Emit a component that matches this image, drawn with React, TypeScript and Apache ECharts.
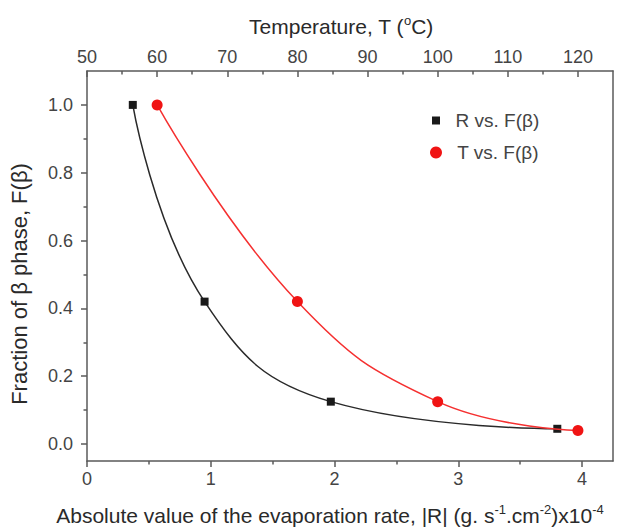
import React, { useEffect, useRef } from 'react';
import * as echarts from 'echarts';

// ---- data ----
const rateValues = [0.37, 0.95, 1.97, 3.8]; // |R| x10^-4
const fractionR = [1.0, 0.42, 0.125, 0.045];
const tempValues = [60, 80, 100, 120]; // °C
const fractionT = [1.0, 0.42, 0.125, 0.04];

const yMajorTicks = [0, 0.2, 0.4, 0.6, 0.8, 1.0];
const yMinorTicks = [0.1, 0.3, 0.5, 0.7, 0.9];
const rateMajorTicks = [0, 1, 2, 3, 4];
const rateMinorTicks = [0.5, 1.5, 2.5, 3.5];
const tempMajorTicks = [50, 60, 70, 80, 90, 100, 110, 120];
const tempMinorTicks = [55, 65, 75, 85, 95, 105, 115];

const seriesNames = ['R vs. F(β)', 'T vs. F(β)'];

const FONT = "'Liberation Sans', Arial, sans-serif";
const AXIS_COLOR = '#5a5a5a';
const LABEL_COLOR = '#444444';
const TITLE_COLOR = '#2a2a2a';

export default function App() {
  const ref = useRef<HTMLDivElement>(null);

  useEffect(() => {
    if (!ref.current) return;
    const chart = echarts.init(ref.current, null, { renderer: 'svg' });

    const grid = { left: 87, right: 7, top: 71, bottom: 69, containLabel: false, outerBoundsMode: 'none' };
    const axisLine = { show: true, onZero: false, lineStyle: { color: AXIS_COLOR, width: 1.5 } };
    const noLine = { show: false, onZero: false };
    const tickLine = { color: AXIS_COLOR, width: 1.5 };
    const labelStyle = { fontFamily: FONT, fontSize: 18, color: LABEL_COLOR };
    const makeName = (size: number) => ({
      fontFamily: FONT,
      fontSize: size,
      color: TITLE_COLOR,
      lineHeight: size + 4,
      rich: {
        sup: { fontFamily: FONT, fontSize: Math.round(size * 0.6), color: TITLE_COLOR, verticalAlign: 'top', lineHeight: size + 4 },
      },
    });

    const option: any = {
      animation: false,
      backgroundColor: '#ffffff',
      textStyle: { fontFamily: FONT },
      grid: [grid, { ...grid }],
      legend: [
        {
          data: [{ name: seriesNames[0], icon: 'rect' }],
          left: 427,
          top: 106,
          itemWidth: 8,
          itemHeight: 8,
          formatter: (n: string) => '  ' + n,
          textStyle: { fontFamily: FONT, fontSize: 19, color: LABEL_COLOR },
        },
        {
          data: [{ name: seriesNames[1], icon: 'circle' }],
          left: 425,
          top: 138,
          itemWidth: 12,
          itemHeight: 12,
          formatter: (n: string) => '  ' + n,
          textStyle: { fontFamily: FONT, fontSize: 19, color: LABEL_COLOR },
        },
      ],
      xAxis: [
        {
          type: 'value',
          gridIndex: 0,
          position: 'bottom',
          min: 0,
          max: 4.25,
          axisLine,
          splitLine: { show: false },
          axisTick: { show: true, inside: false, length: 6, customValues: rateMajorTicks, lineStyle: tickLine },
          axisLabel: { ...labelStyle, margin: 9, customValues: rateMajorTicks, formatter: (v: number) => String(v) },
          name: 'Absolute value of the evaporation rate, |R| (g. s{sup|-1}.cm{sup|-2})x10{sup|-4}',
          nameLocation: 'middle',
          nameGap: 42,
          nameTextStyle: { ...makeName(21), padding: [0, 40, 0, 0] },
        },
        {
          type: 'value',
          gridIndex: 0,
          position: 'top',
          min: 50,
          max: 125,
          axisLine,
          splitLine: { show: false },
          axisTick: { show: true, inside: true, length: 6, customValues: tempMajorTicks, lineStyle: tickLine },
          axisLabel: { ...labelStyle, margin: 5, customValues: tempMajorTicks, formatter: (v: number) => String(v) },
          name: 'Temperature, T ({sup|o}C)',
          nameLocation: 'middle',
          nameGap: 32,
          nameTextStyle: { ...makeName(21), padding: [0, 18, 0, 0] },
        },
        {
          type: 'value',
          gridIndex: 1,
          position: 'bottom',
          min: 0,
          max: 4.25,
          axisLine: noLine,
          splitLine: { show: false },
          axisLabel: { show: false },
          axisTick: { show: true, inside: false, length: 3.5, customValues: rateMinorTicks, lineStyle: tickLine },
        },
        {
          type: 'value',
          gridIndex: 1,
          position: 'top',
          min: 50,
          max: 125,
          axisLine: noLine,
          splitLine: { show: false },
          axisLabel: { show: false },
          axisTick: { show: true, inside: true, length: 3.5, customValues: tempMinorTicks, lineStyle: tickLine },
        },
      ],
      yAxis: [
        {
          type: 'value',
          gridIndex: 0,
          position: 'left',
          min: -0.05,
          max: 1.1,
          axisLine,
          splitLine: { show: false },
          axisTick: { show: true, inside: false, length: 6, customValues: yMajorTicks, lineStyle: tickLine },
          axisLabel: { ...labelStyle, margin: 14, customValues: yMajorTicks, formatter: (v: number) => v.toFixed(1) },
          name: 'Fraction of β phase, F(β)',
          nameLocation: 'middle',
          nameGap: 55,
          nameTextStyle: { ...makeName(22), padding: [0, 36, 0, 0] },
        },
        {
          type: 'value',
          gridIndex: 0,
          position: 'right',
          min: -0.05,
          max: 1.1,
          axisLine,
          splitLine: { show: false },
          axisTick: { show: false },
          axisLabel: { show: false },
        },
        {
          type: 'value',
          gridIndex: 1,
          position: 'left',
          min: -0.05,
          max: 1.1,
          axisLine: noLine,
          splitLine: { show: false },
          axisLabel: { show: false },
          axisTick: { show: true, inside: false, length: 3.5, customValues: yMinorTicks, lineStyle: tickLine },
        },
      ],
      series: [
        {
          name: seriesNames[0],
          type: 'line',
          xAxisIndex: 0,
          yAxisIndex: 0,
          data: rateValues.map((x, i) => [x, fractionR[i]]),
          smooth: 0.45,
          symbol: 'rect',
          symbolSize: 8,
          itemStyle: { color: '#1a1a1a' },
          lineStyle: { color: '#2a2a2a', width: 1.5 },
          z: 3,
        },
        {
          name: seriesNames[1],
          type: 'line',
          xAxisIndex: 1,
          yAxisIndex: 0,
          data: tempValues.map((x, i) => [x, fractionT[i]]),
          smooth: 0.45,
          symbol: 'circle',
          symbolSize: 11,
          itemStyle: { color: '#f01414' },
          lineStyle: { color: '#f53030', width: 1.5 },
          z: 4,
        },
      ],
    };

    chart.setOption(option);
    return () => chart.dispose();
  }, []);

  return (
    <div
      ref={ref}
      style={{ position: 'absolute', left: 0, top: 0, width: 620, height: 530, background: '#fff' }}
    />
  );
}
